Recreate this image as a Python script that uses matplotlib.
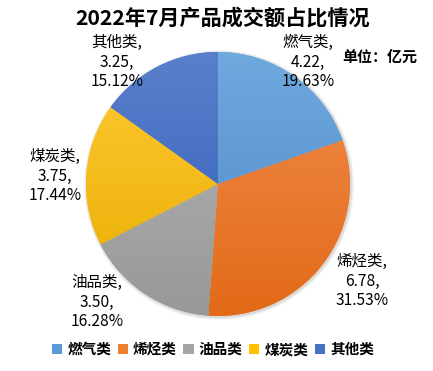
import matplotlib
matplotlib.use("Agg")
import matplotlib.pyplot as plt
import numpy as np
from matplotlib.colors import to_rgb
from matplotlib.patches import Patch, Circle

plt.rcParams["font.family"] = ["Noto Sans CJK SC", "DejaVu Sans"]

categories = ["燃气类", "烯烃类", "油品类", "煤炭类", "其他类"]
values = [4.22, 6.78, 3.50, 3.75, 3.25]
percents = ["19.63%", "31.53%", "16.28%", "17.44%", "15.12%"]
colors = ["#5B9BD5", "#ED7D31", "#A5A5A5", "#FFC000", "#4472C4"]
tops = ["#70A9DE", "#F18D4E", "#B6B6B6", "#FFC935", "#5A80CC"]
bottoms = ["#4A88C8", "#E26A18", "#989898", "#E8AD00", "#2F5CB6"]

# label positions in pixel coords (x, y from top)
label_pos = [(308, 62), (362, 281), (97, 302), (55, 176), (117, 62)]

W, H = 433, 371
fig = plt.figure(figsize=(W / 100, H / 100), dpi=100)
ax = fig.add_axes([0, 0, 1, 1])

cx, cy, r = 218, H - 184, 132

# soft shadow
for i, a in enumerate([0.04, 0.05, 0.06]):
    ax.add_patch(Circle((cx + 1, cy - 1), r + 3 - i, color="#000000", alpha=a, lw=0, zorder=1))

wedges, _ = ax.pie(values, colors=colors, startangle=90, counterclock=False,
                   center=(cx, cy), radius=r, frame=True,
                   wedgeprops=dict(linewidth=0, zorder=2))
ax.set_xlim(0, W)
ax.set_ylim(0, H)
ax.set_aspect("equal")
ax.axis("off")

grad = np.linspace(0, 1, 256)[:, None]
for w, c_top, c_bot in zip(wedges, tops, bottoms):
    t, b = np.array(to_rgb(c_top)), np.array(to_rgb(c_bot))
    img = t[None, None, :] * (1 - grad[:, :, None]) + b[None, None, :] * grad[:, :, None]
    im = ax.imshow(img, extent=(cx - r, cx + r, cy - r, cy + r), origin="upper",
                   aspect="auto", zorder=3, interpolation="bilinear")
    im.set_clip_path(w)

for (x, y), cat, v, p in zip(label_pos, categories, values, percents):
    ax.text(x, H - y, f"{cat},\n{v:.2f},\n{p}", ha="center", va="center",
            fontsize=11.2, linespacing=1.2, color="#000000", zorder=5)

ax.text(W / 2 + 6, H - 18, "2022年7月产品成交额占比情况", ha="center", va="center",
        fontsize=15.2, fontweight="bold", zorder=5)
ax.text(380, H - 57, "单位：亿元", ha="center", va="center",
        fontsize=10.8, fontweight="bold", zorder=5)

handles = [Patch(facecolor=c, edgecolor="none") for c in colors]
leg = fig.legend(handles, categories, loc="center", bbox_to_anchor=(0.492, 1 - 349 / H),
                 ncol=5, frameon=False, handlelength=0.7, handleheight=0.7,
                 handletextpad=0.35, columnspacing=0.45,
                 prop={"size": 10.5, "weight": "bold", "family": ["Noto Sans CJK SC", "DejaVu Sans"]})

fig.savefig("out.png", dpi=100)
